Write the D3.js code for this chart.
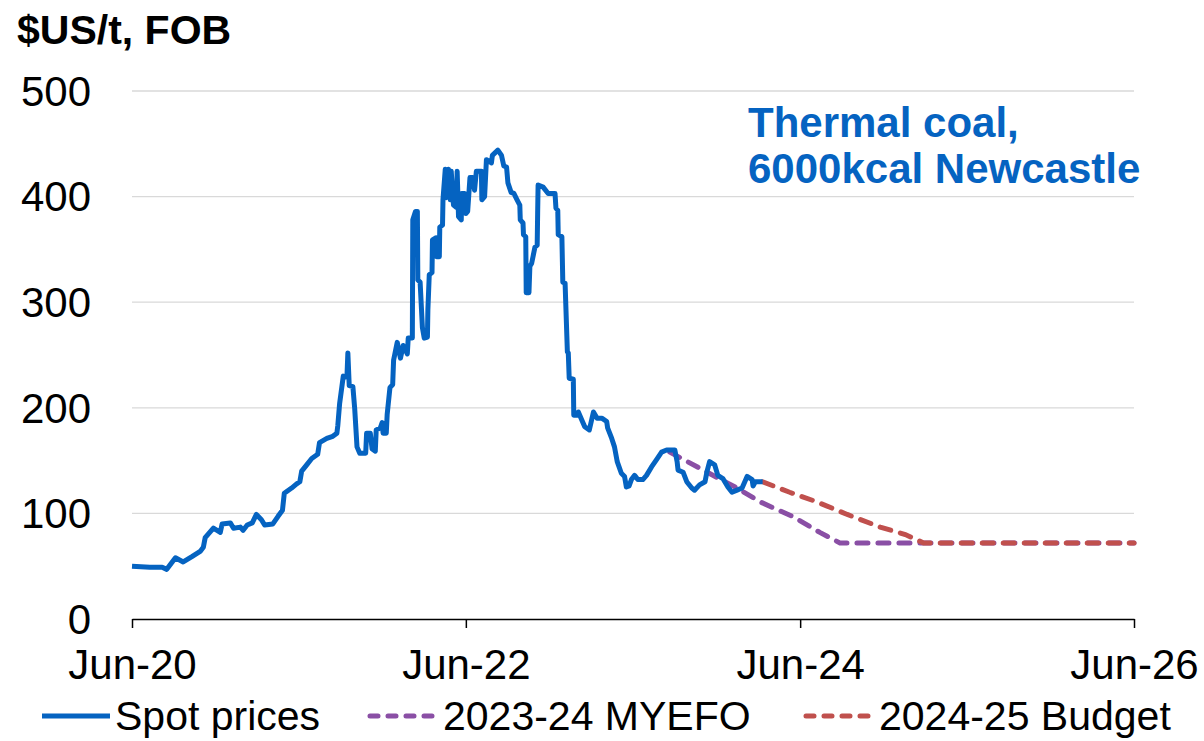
<!DOCTYPE html>
<html>
<head>
<meta charset="utf-8">
<script src="https://cdn.jsdelivr.net/npm/d3@7"></script>
<style>
    body { margin: 0; background: #fff; }
    svg text { font-family: 'Liberation Sans', Arial, sans-serif; }
    .grid-line { stroke: #d9d9d9; stroke-width: 1.3; }
    .x-axis path, .x-axis line { stroke: #000; stroke-width: 1.5; }
</style>
</head>
<body>
<svg id="plotarea"></svg>
<script>
const spotDates = [
    '2020-06-01','2020-07-10','2020-08-06','2020-08-16','2020-09-04','2020-09-21','2020-10-10','2020-10-28',
    '2020-11-04','2020-11-08','2020-11-26','2020-12-11','2020-12-15','2021-01-02','2021-01-09','2021-01-24',
    '2021-01-30','2021-02-08','2021-02-19','2021-02-28','2021-03-11','2021-03-18','2021-04-05','2021-04-16',
    '2021-04-26','2021-04-30','2021-05-16','2021-05-27','2021-06-03','2021-06-07','2021-06-18','2021-06-29',
    '2021-07-12','2021-07-16','2021-08-01','2021-08-14','2021-08-23','2021-08-25','2021-08-29','2021-09-06',
    '2021-09-14','2021-09-16','2021-09-19','2021-09-27','2021-10-01','2021-10-06','2021-10-12','2021-10-25',
    '2021-10-27','2021-11-04','2021-11-08','2021-11-15','2021-11-17','2021-11-26','2021-11-30','2021-12-02',
    '2021-12-09','2021-12-11','2021-12-17','2021-12-23','2021-12-25','2022-01-02','2022-01-09','2022-01-15',
    '2022-01-24','2022-01-26','2022-02-04','2022-02-05','2022-02-11','2022-02-15','2022-02-16','2022-02-21',
    '2022-02-26','2022-03-02','2022-03-09','2022-03-10','2022-03-13','2022-03-19','2022-03-20','2022-03-28',
    '2022-03-29','2022-04-04','2022-04-05','2022-04-11','2022-04-12','2022-04-17','2022-04-19','2022-04-24',
    '2022-04-28','2022-04-30','2022-05-05','2022-05-11','2022-05-13','2022-05-16','2022-05-22','2022-05-23',
    '2022-05-29','2022-06-01','2022-06-05','2022-06-10','2022-06-16','2022-06-20','2022-06-24','2022-07-05',
    '2022-07-06','2022-07-12','2022-07-16','2022-07-27','2022-07-29','2022-08-10','2022-08-18','2022-08-23',
    '2022-08-29','2022-09-01','2022-09-08','2022-09-14','2022-09-21','2022-09-27','2022-09-28','2022-10-04',
    '2022-10-05','2022-10-10','2022-10-11','2022-10-17','2022-10-19','2022-10-23','2022-10-30','2022-11-04',
    '2022-11-05','2022-11-06','2022-11-17','2022-11-28','2022-12-13','2022-12-15','2022-12-19','2022-12-20',
    '2022-12-28','2022-12-30','2023-01-04','2023-01-09','2023-01-11','2023-01-13','2023-01-22','2023-01-23',
    '2023-01-31','2023-02-02','2023-02-10','2023-02-16','2023-02-26','2023-03-07','2023-03-15','2023-03-26',
    '2023-04-05','2023-04-07','2023-04-16','2023-04-22','2023-04-28','2023-05-07','2023-05-14','2023-05-18',
    '2023-05-24','2023-05-29','2023-06-05','2023-06-12','2023-06-23','2023-07-01','2023-07-12','2023-07-23',
    '2023-08-03','2023-08-14','2023-09-01','2023-09-06','2023-09-08','2023-09-19','2023-09-27','2023-10-08',
    '2023-10-14','2023-10-25','2023-11-06','2023-11-10','2023-11-16','2023-11-27','2023-12-04','2023-12-15',
    '2023-12-26','2024-01-04','2024-01-15','2024-01-26','2024-02-06','2024-02-17','2024-02-19','2024-02-24',
    '2024-03-11'
];
const spotPrices = [
    50, 49, 49, 47, 58, 54, 59, 64,
    68, 77, 86, 82, 90, 91, 86, 87,
    84, 89, 91, 99, 94, 89, 90, 97,
    103, 119, 124, 128, 130, 140, 146, 152,
    156, 167, 171, 173, 176, 183, 204, 230,
    229, 252, 221, 220, 199, 163, 157, 157,
    176, 176, 161, 159, 179, 181, 186, 176,
    176, 194, 219, 222, 245, 262, 247, 259,
    251, 266, 266, 378, 386, 386, 321, 319,
    276, 266, 267, 293, 326, 328, 359, 361,
    343, 343, 371, 373, 397, 426, 399, 426,
    397, 424, 392, 390, 424, 381, 378, 403,
    403, 384, 386, 418, 418, 406, 424, 424,
    397, 400, 435, 432, 439, 444, 439, 429,
    428, 413, 404, 403, 397, 392, 378, 375,
    364, 362, 309, 309, 334, 337, 352, 354,
    384, 411, 409, 403, 403, 389, 387, 364,
    362, 319, 318, 253, 252, 228, 227, 193,
    193, 196, 188, 182, 179, 196, 190, 190,
    187, 181, 171, 163, 149, 138, 135, 125,
    126, 132, 136, 132, 132, 136, 144, 151,
    158, 160, 160, 149, 141, 139, 130, 124,
    122, 127, 130, 139, 149, 146, 136, 133,
    125, 120, 122, 124, 135, 132, 126, 130,
    130
];

const myefoDates = ['2023-08-21','2023-11-02','2024-01-15','2024-03-05','2024-05-16','2024-07-14','2024-08-27','2026-06-01'];
const myefoPrices = [158, 141, 124, 111, 97, 82, 72, 72];

const budgetDates = ['2024-03-11','2024-05-09','2024-07-07','2024-09-12','2024-11-23','2025-01-17','2025-02-26','2026-06-01'];
const budgetPrices = [130, 120, 111, 99, 87, 80, 72, 72];

const yTicks = [0, 100, 200, 300, 400, 500];
const xTicks = ['2020-06-01', '2022-06-01', '2024-06-01', '2026-06-01'];

const seriesNames = ['Spot prices', '2023-24 MYEFO', '2024-25 Budget'];
const colors = ['#0563c1', '#8a4fa5', '#c0504d'];

const margin = { top: 91, bottom: 122, left: 132, right: 70 };
const dims = {
    width: 1204 - margin.left - margin.right,
    height: 741 - margin.top - margin.bottom,
};
const fontSize = '42px';

var parseDate = d3.timeParse('%Y-%m-%d');

function zipSeries(dates, values) {
    return dates.map((d, i) => ({ date: parseDate(d), value: values[i] }));
}

function plot() {
    var svg = d3.select('#plotarea')
                .attr('width', dims.width + margin.left + margin.right)
                .attr('height', dims.height + margin.top + margin.bottom)
                .append('g')
                .attr('transform', `translate(${margin.left}, ${margin.top})`);

    var x = d3.scaleTime()
              .domain([parseDate(xTicks[0]), parseDate(xTicks[xTicks.length - 1])])
              .range([0, dims.width]);
    var y = d3.scaleLinear().domain([0, 500]).range([dims.height, 0]);

    // gridlines
    svg.selectAll('line.grid-line')
       .data(yTicks.filter(t => t > 0))
       .enter().append('line')
       .attr('class', 'grid-line')
       .attr('x1', 0).attr('x2', dims.width)
       .attr('y1', d => y(d)).attr('y2', d => y(d));

    // y labels
    svg.selectAll('text.y-label')
       .data(yTicks)
       .enter().append('text')
       .attr('class', 'y-label')
       .attr('x', -41)
       .attr('y', d => y(d))
       .attr('dy', '0.35em')
       .style('text-anchor', 'end')
       .style('font-size', fontSize)
       .text(d => d);

    // x axis
    var xAxis = svg.append('g')
       .attr('class', 'x-axis')
       .attr('transform', 'translate(0,' + dims.height + ')')
       .call(d3.axisBottom(x)
               .tickValues(xTicks.map(parseDate))
               .tickSize(9)
               .tickSizeOuter(0)
               .tickPadding(21)
               .tickFormat(d3.timeFormat('%b-%y')));
    xAxis.selectAll('text')
         .style('font-size', fontSize)
         .style('font-family', "'Liberation Sans', Arial, sans-serif")
         .attr('fill', '#000');

    var line = d3.line()
                 .x(d => x(d.date))
                 .y(d => y(d.value));

    var myefo = zipSeries(myefoDates, myefoPrices);
    var budget = zipSeries(budgetDates, budgetPrices);
    var spot = zipSeries(spotDates, spotPrices);

    svg.append('path')
       .attr('d', line(myefo))
       .attr('fill', 'none')
       .attr('stroke', colors[1])
       .attr('stroke-width', 5)
       .attr('stroke-linecap', 'round')
       .attr('stroke-dasharray', '11,10');

    svg.append('path')
       .attr('d', line(budget))
       .attr('fill', 'none')
       .attr('stroke', colors[2])
       .attr('stroke-width', 5)
       .attr('stroke-linecap', 'round')
       .attr('stroke-dasharray', '11,10');

    svg.append('path')
       .attr('d', line(spot))
       .attr('fill', 'none')
       .attr('stroke', colors[0])
       .attr('stroke-width', 5)
       .attr('stroke-linejoin', 'round');

    // unit label
    svg.append('text')
       .attr('x', 17 - margin.left)
       .attr('y', 44 - margin.top)
       .style('font-size', '41px')
       .style('font-weight', 'bold')
       .text('$US/t, FOB');

    // series title
    var title = svg.append('text')
       .attr('x', 748 - margin.left)
       .attr('y', 137 - margin.top)
       .style('font-size', fontSize)
       .style('font-weight', 'bold')
       .attr('fill', '#0563c1');
    title.append('tspan').text('Thermal coal,');
    title.append('tspan').attr('x', 748 - margin.left).attr('dy', 46).text('6000kcal Newcastle');

    // legend
    var legendX = [42, 370, 806];
    var legend = svg.append('g')
       .attr('transform', `translate(${-margin.left}, ${716 - margin.top})`);
    seriesNames.forEach(function(name, i) {
        legend.append('line')
              .attr('x1', legendX[i]).attr('x2', legendX[i] + 68)
              .attr('y1', 0).attr('y2', 0)
              .attr('stroke', colors[i])
              .attr('stroke-width', 5)
              .attr('stroke-linecap', i == 0 ? 'butt' : 'round')
              .attr('stroke-dasharray', i == 0 ? null : '8,10');
        legend.append('text')
              .attr('x', legendX[i] + 73)
              .attr('y', 0)
              .attr('dy', '0.33em')
              .style('font-size', '41px')
              .text(name);
    });
}

plot();
</script>
</body>
</html>
